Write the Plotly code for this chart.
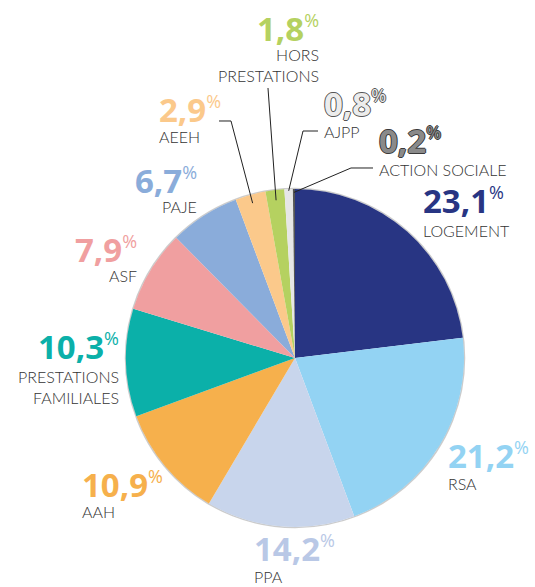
import math
import plotly.graph_objects as go

# ---- data ----
categories = ["LOGEMENT", "RSA", "PPA", "AAH", "PRESTATIONS FAMILIALES", "ASF",
              "PAJE", "AEEH", "HORS PRESTATIONS", "AJPP", "ACTION SOCIALE"]
display_names = ["LOGEMENT", "RSA", "PPA", "AAH", "PRESTATIONS<br>FAMILIALES", "ASF",
                 "PAJE", "AEEH", "HORS<br>PRESTATIONS", "AJPP", "ACTION SOCIALE"]
values = [23.1, 21.2, 14.2, 10.9, 10.3, 7.9, 6.7, 2.9, 1.8, 0.8, 0.2]

# ---- styles ----
colors = ["#283583", "#93d3f3", "#c8d5ec", "#f6b04c", "#0bb0a9", "#f09fa0",
          "#8aacda", "#fbc98b", "#b5d160", "#e6e6e6", "#555555"]
pct_colors = ["#283583", "#93d3f3", "#b9c8e6", "#f6b04c", "#0bb0a9", "#f09fa0",
              "#8aacda", "#fbc98b", "#b5d160", "#ececec", "#8a8a8a"]
outline = {9: "#555555", 10: "#3a3a3a"}

W, H = 535, 587
CX, CY, R = 295, 358, 169  # pie placement in pixels


def px(x):
    return x / W


def py(y):
    return 1 - y / H


# label layout in pixels: (anchor, pct_x, pct_y, name_x, name_y)
label_layout = [
    ("left", 421, 201, 421, 230),
    ("left", 446, 455, 446, 483),
    ("left", 252, 548, 252, 576),
    ("left", 80, 484, 80, 511),
    ("right", 121, 346, 121, 387),
    ("right", 139, 249, 139, 276),
    ("right", 199, 180, 199, 206),
    ("left", 157, 109, 157, 137),
    ("right", 321, 28, 321, 65),
    ("left", 322, 103, 322, 131),
    ("left", 377, 141, 377, 169),
]

# leader lines: index -> (list of text-side points in px, radius factor at slice)
leaders = {
    7: ([(219, 121), (231, 121)], 0.95),
    8: ([(268, 88)], 0.94),
    9: ([(318, 131), (303, 131)], 0.99),
    10: ([(373, 168), (351, 168)], 0.98),
}

fig = go.Figure()
fig.add_trace(go.Pie(
    labels=categories,
    values=values,
    sort=False,
    direction="clockwise",
    rotation=0,
    marker=dict(colors=colors, line=dict(color="rgba(0,0,0,0)", width=0)),
    textinfo="none",
    hoverinfo="label+percent",
    showlegend=False,
    domain=dict(x=[px(CX - R), px(CX + R)], y=[py(CY + R), py(CY - R)]),
))

annotations = []
shapes = [dict(type="circle", xref="paper", yref="paper",
               x0=px(CX - R - 0.5), x1=px(CX + R + 0.5),
               y0=py(CY + R + 0.5), y1=py(CY - R - 0.5),
               line=dict(color="rgba(170,170,170,0.6)", width=1.5), layer="below")]
total = sum(values)
cum = 0.0
for i, v in enumerate(values):
    mid = (cum + v / 2) / total * 2 * math.pi
    cum += v
    anchor, pxx, pyy, nx, ny = label_layout[i]
    pct = f"{v:.1f}".replace(".", ",")
    font = dict(family="Open Sans, Arial, sans-serif", size=33, color=pct_colors[i], weight=700)
    if i in outline:
        c = outline[i]
        font["shadow"] = f"1px 0 0 {c}, -1px 0 0 {c}, 0 1px 0 {c}, 0 -1px 0 {c}"
    annotations.append(dict(
        text=f"{pct}<sup><span style='font-size:18px;font-weight:400'>%</span></sup>",
        x=px(pxx), y=py(pyy), xref="paper", yref="paper",
        xanchor=anchor, yanchor="middle", align=anchor, showarrow=False, font=font,
    ))
    annotations.append(dict(
        text=display_names[i], x=px(nx), y=py(ny), xref="paper", yref="paper",
        xanchor=anchor, yanchor="middle", align=anchor, showarrow=False,
        font=dict(family="Lato, Arial, sans-serif", size=16, color="#333333", weight=300),
    ))
    if i in leaders:
        pts, rf = leaders[i]
        ex = CX + R * rf * math.sin(mid)
        ey = CY - R * rf * math.cos(mid)
        allpts = pts + [(ex, ey)]
        path = "M " + " L ".join(f"{px(a):.5f},{py(b):.5f}" for a, b in allpts)
        shapes.append(dict(type="path", path=path, xref="paper", yref="paper",
                           line=dict(color="#222222", width=1)))

fig.update_layout(
    width=W, height=H,
    margin=dict(l=0, r=0, t=0, b=0),
    paper_bgcolor="white",
    plot_bgcolor="white",
    annotations=annotations,
    shapes=shapes,
)

fig.write_html("out.html", config={"displayModeBar": False},
               post_script="document.body.style.margin='0';document.body.style.overflow='hidden';")
